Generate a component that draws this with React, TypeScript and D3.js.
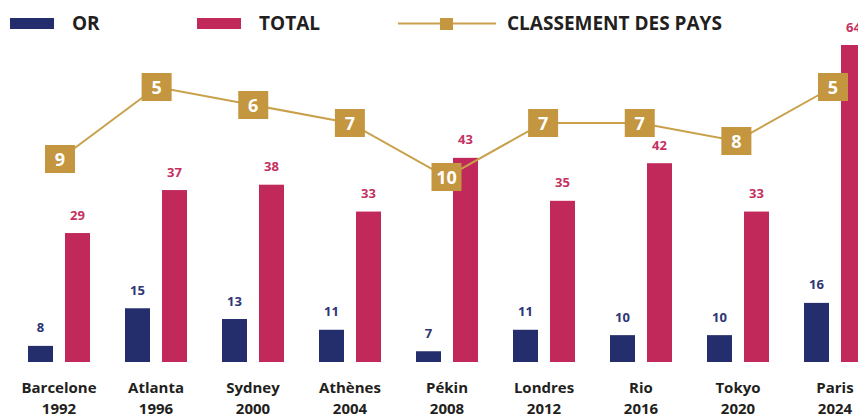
import React from "react";
import * as d3 from "d3";

const cities = ["Barcelone", "Atlanta", "Sydney", "Athènes", "Pékin", "Londres", "Rio", "Tokyo", "Paris"];
const years = ["1992", "1996", "2000", "2004", "2008", "2012", "2016", "2020", "2024"];
const gold = [8, 15, 13, 11, 7, 11, 10, 10, 16];
const total = [29, 37, 38, 33, 43, 35, 42, 33, 64];
const rank = [9, 5, 6, 7, 10, 7, 7, 8, 5];

const NAVY = "#252e6c";
const CRIMSON = "#c1295a";
const GOLD = "#c3963f";
const LINE = "#c9a04b";
const TEXT = "#231f20";
const FONT = "'Open Sans', sans-serif";

export default function App() {
  const W = 858, H = 414;
  const x = d3.scaleBand<string>().domain(cities).range([10.5, 10.5 + 97 * 9]).padding(0);
  const inner = d3.scaleBand<string>().domain(["or", "total"]).range([17.5, 79.5]).paddingInner(12 / 37).paddingOuter(0);
  const y = d3.scaleLinear().domain([5, 64]).range([362, 45]);
  const xr = d3.scalePoint<string>().domain(cities).range([60, 833]);
  const yr = d3.scaleLinear().domain([5, 10]).range([87, 177]);
  const line = d3.line<number>().x((_, i) => xr(cities[i])!).y((d) => yr(d));
  const bw = inner.bandwidth();
  const sqW = 30, sqH = 28;

  return (
    <svg width={W} height={H} style={{ position: "absolute", left: 0, top: 0, background: "#fff" }} fontFamily={FONT}>
      {/* legend */}
      <rect x={10} y={18} width={44} height={11} fill={NAVY} />
      <text x={72} y={30} fontSize={19} fontWeight={700} fill={TEXT}>OR</text>
      <rect x={197} y={18} width={44} height={11} fill={CRIMSON} />
      <text x={259} y={30} fontSize={19} fontWeight={700} fill={TEXT}>TOTAL</text>
      <line x1={398} x2={496} y1={23.5} y2={23.5} stroke={LINE} strokeWidth={2} />
      <rect x={440} y={18} width={13} height={12} fill={GOLD} />
      <text x={507} y={30} fontSize={19} fontWeight={700} fill={TEXT}>CLASSEMENT DES PAYS</text>

      {cities.map((c, i) => {
        const gx = x(c)!;
        const ox = gx + inner("or")!;
        const tx = gx + inner("total")!;
        return (
          <g key={c}>
            <rect x={ox} y={y(gold[i])} width={bw} height={y(5) - y(gold[i])} fill={NAVY} />
            <rect x={tx} y={y(total[i])} width={bw} height={y(5) - y(total[i])} fill={CRIMSON} />
            <text x={ox + bw / 2} y={y(gold[i]) - 13.5} textAnchor="middle" fontSize={13} fontWeight={700} fill="#2e3675">{gold[i]}</text>
            <text x={tx + bw / 2} y={y(total[i]) - 13.5} textAnchor="middle" fontSize={13} fontWeight={700} fill="#c4305f">{total[i]}</text>
            <text x={gx + x.bandwidth() / 2} y={393} textAnchor="middle" fontSize={15} fontWeight={700} fill={TEXT}>{c}</text>
            <text x={gx + x.bandwidth() / 2} y={414} textAnchor="middle" fontSize={15} fontWeight={700} fill={TEXT}>{years[i]}</text>
          </g>
        );
      })}

      <path d={line(rank)!} fill="none" stroke={LINE} strokeWidth={2} />
      {rank.map((r, i) => {
        const cx = xr(cities[i])!;
        const cy = yr(r);
        return (
          <g key={"r" + i}>
            <rect x={cx - sqW / 2} y={cy - sqH / 2} width={sqW} height={sqH} fill={GOLD} />
            <text x={cx} y={cy + 6.5} textAnchor="middle" fontSize={18} fontWeight={700} fill="#fff">{r}</text>
          </g>
        );
      })}
    </svg>
  );
}
